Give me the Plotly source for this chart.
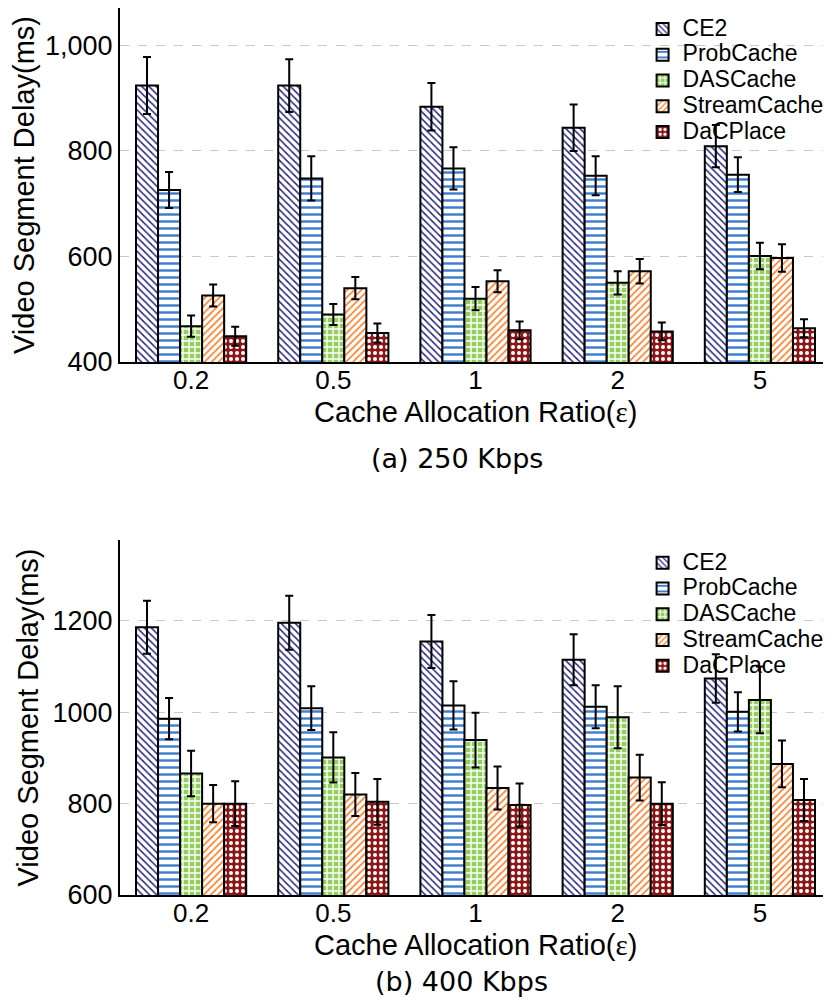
import plotly.graph_objects as go

categories = ["0.2", "0.5", "1", "2", "5"]
series_names = ["CE2", "ProbCache", "DASCache", "StreamCache", "DaCPlace"]

# (a) 250 Kbps
ce2_a = [924, 924, 884, 844, 809]
ce2_a_err = [54, 50, 45, 44, 40]
prob_a = [726, 748, 767, 753, 755]
prob_a_err = [34, 42, 40, 37, 33]
das_a = [468, 490, 520, 550, 601]
das_a_err = [20, 20, 22, 22, 25]
stream_a = [526, 540, 553, 572, 597]
stream_a_err = [21, 21, 21, 23, 26]
dac_a = [449, 455, 460, 458, 464]
dac_a_err = [18, 18, 17, 17, 17]

# (b) 400 Kbps
ce2_b = [1186, 1196, 1155, 1115, 1074]
ce2_b_err = [58, 59, 58, 56, 53]
prob_b = [986, 1009, 1015, 1012, 1001]
prob_b_err = [45, 48, 53, 47, 43]
das_b = [866, 901, 939, 989, 1027]
das_b_err = [50, 55, 60, 68, 73]
stream_b = [800, 820, 834, 857, 887]
stream_b_err = [41, 47, 47, 50, 51]
dac_b = [800, 804, 797, 800, 808]
dac_b_err = [49, 50, 47, 47, 46]

yticks_a = [400, 600, 800, 1000]
yticks_b = [600, 800, 1000, 1200]

styles = [
    dict(shape="\\", fg="#27277f", bg="#ffffff", size=5, sol=0.3),
    dict(shape="-", fg="#3b7dd0", bg="#ffffff", size=7, sol=0.35),
    dict(shape="+", fg="#ffffff", bg="#92cf5c", size=6, sol=0.4),
    dict(shape="/", fg="#ff7a22", bg="#ffffff", size=5, sol=0.32),
    dict(shape=".", fg="#ffffff", bg="#8c1616", size=6, sol=0.35),
]

FONT = "Liberation Sans, Arial, sans-serif"
fig = go.Figure()

data_a = [(ce2_a, ce2_a_err), (prob_a, prob_a_err), (das_a, das_a_err),
          (stream_a, stream_a_err), (dac_a, dac_a_err)]
data_b = [(ce2_b, ce2_b_err), (prob_b, prob_b_err), (das_b, das_b_err),
          (stream_b, stream_b_err), (dac_b, dac_b_err)]

for data, xa, ya, lg in [(data_a, "x", "y", "legend"), (data_b, "x2", "y2", "legend2")]:
    for name, (vals, errs), st in zip(series_names, data, styles):
        fig.add_trace(go.Bar(
            x=categories, y=vals, name="<span style='font-size:23px'>" + name + "</span>",
            xaxis=xa, yaxis=ya, legend=lg,
            marker=dict(
                color=st["bg"],
                line=dict(color="black", width=2),
                pattern=dict(shape=st["shape"], fgcolor=st["fg"], bgcolor=st["bg"],
                             size=st["size"], solidity=st["sol"], fillmode="replace"),
            ),
            error_y=dict(type="data", array=errs, color="black", thickness=2, width=4),
        ))

axis_common = dict(showline=True, linecolor="black", linewidth=2, ticks="", automargin=False,
                   tickfont=dict(family=FONT, size=26, color="black"))
ytickfont = dict(family=FONT, size=27, color="black")

xtitle = "Cache Allocation Ratio(<span style='font-family:Liberation Serif'>ε</span>)"
ytitle = "Video Segment Delay(ms)"

fig.update_layout(
    width=823, height=998,
    margin=dict(l=112, r=0, t=0, b=111),
    paper_bgcolor="white", plot_bgcolor="white",
    barmode="group", bargap=0.225, bargroupgap=0,
    font=dict(family=FONT, color="black"),
    xaxis=dict(domain=[0, 1], anchor="y", range=[-0.5, 4.5], showgrid=False,
               ticklabelstandoff=-6, **axis_common),
    yaxis=dict(domain=[0.6009, 1], anchor="x", range=[400, 1071], tickvals=yticks_a,
               tickformat=",d", showgrid=True, gridcolor="#c8c8c8", griddash="dash", gridwidth=1,
               zeroline=False, showline=True, linecolor="black", linewidth=2, ticks="",
               automargin=False, tickfont=ytickfont,
               title=dict(text=ytitle, font=dict(family=FONT, size=29), standoff=5)),
    xaxis2=dict(domain=[0, 1], anchor="y2", range=[-0.5, 4.5], showgrid=False,
                ticklabelstandoff=-6, **axis_common),
    yaxis2=dict(domain=[0, 0.4002], anchor="x2", range=[600, 1377], tickvals=yticks_b,
                tickformat="d", showgrid=True, gridcolor="#c8c8c8", griddash="dash", gridwidth=1,
                zeroline=False, showline=True, linecolor="black", linewidth=2, ticks="",
                automargin=False, tickfont=ytickfont,
                title=dict(text=ytitle, font=dict(family=FONT, size=29), standoff=5)),
    legend=dict(x=0.735, y=0.9966, xanchor="left", yanchor="top", bgcolor="rgba(0,0,0,0)",
                font=dict(family=FONT, size=17.5), tracegroupgap=0, itemwidth=30),
    legend2=dict(x=0.735, y=0.3946, xanchor="left", yanchor="top", bgcolor="rgba(0,0,0,0)",
                 font=dict(family=FONT, size=17.5), tracegroupgap=0, itemwidth=30),
    annotations=[
        dict(text=xtitle, xref="paper", yref="paper", x=0.5, y=0.5445,
             xanchor="center", yanchor="middle", showarrow=False,
             font=dict(family=FONT, size=29, color="black")),
        dict(text=xtitle, xref="paper", yref="paper", x=0.5, y=-0.0565,
             xanchor="center", yanchor="middle", showarrow=False,
             font=dict(family=FONT, size=29, color="black")),
        dict(text="(a) 250 Kbps", xref="paper", yref="paper", x=0.474, y=0.4925,
             xanchor="center", yanchor="middle", showarrow=False,
             font=dict(family="DejaVu Sans", size=27, color="black")),
        dict(text="(b) 400 Kbps", xref="paper", yref="paper", x=0.480, y=-0.098,
             xanchor="center", yanchor="middle", showarrow=False,
             font=dict(family="DejaVu Sans", size=27, color="black")),
    ],
)

fig.write_html("out.html")
